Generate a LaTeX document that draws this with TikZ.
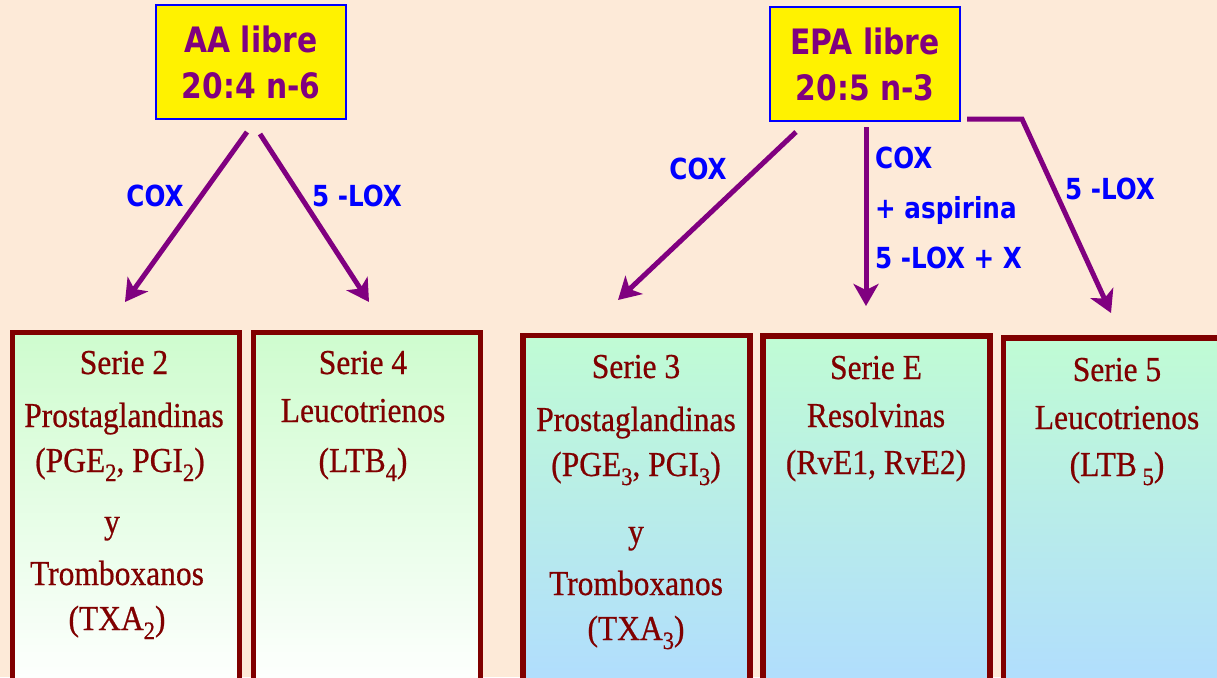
\documentclass[tikz,border=0pt]{standalone}
\usepackage{fontspec}
\setmainfont{Liberation Serif}
\newfontfamily\serieFont[FakeStretch=0.9,FakeBold=0.6]{Liberation Serif}
\newfontfamily\labFont[FakeStretch=0.85]{DejaVu Sans}
\usetikzlibrary{arrows.meta}
\definecolor{bg}{RGB}{253,234,216}
\definecolor{purp}{RGB}{128,0,128}
\definecolor{lblue}{RGB}{0,0,255}
\definecolor{dred}{RGB}{128,0,0}
\definecolor{gtop}{RGB}{206,252,206}
\definecolor{ctop}{RGB}{192,252,212}
\definecolor{cmid}{RGB}{176,255,255}
\definecolor{cbot}{RGB}{176,220,255}
\newcommand\lowsub[1]{\raisebox{-9pt}{\fontsize{25}{25}\selectfont #1}}
\newcommand\shl[1]{\hspace*{#1}\null}
\tikzset{
  srcbox/.style={draw=lblue, line width=1.5pt, fill=yellow, minimum width=190pt, minimum height=114pt,
    align=center, text=purp, inner sep=0pt, font=\labFont\bfseries\fontsize{35}{46}\selectfont},
  serbox/.style={draw=dred, line width=5.5pt, minimum width=227pt, minimum height=360pt, anchor=north, inner sep=0pt},
  greenbox/.style={serbox, top color=gtop, bottom color=white},
  bluebox/.style={serbox, top color=ctop, middle color=cmid, bottom color=cbot},
  sertext/.style={text=dred, align=center, anchor=base, inner sep=0pt,
    font=\serieFont\fontsize{35}{45}\selectfont},
  lab/.style={text=lblue, inner sep=0pt, font=\labFont\bfseries\fontsize{29}{50}\selectfont},
  arr/.style={draw=purp, line width=5pt, -{Stealth[length=22pt,width=25pt,inset=6pt]}}
}
\begin{document}
\begin{tikzpicture}[x=1pt,y=-1pt]
\fill[bg] (0,0) rectangle (1217,677);
\useasboundingbox (0,0) rectangle (1217,677);
\clip (0,0) rectangle (1217,677);

% source boxes
\node[srcbox] (aa) at (251,62) {AA libre\\20:4 n-6};
\node[srcbox] (epa) at (865,64) {EPA libre\\20:5 n-3};

% series boxes
\node[greenbox] (s2) at (126,329.5) {};
\node[greenbox] (s4) at (367,329.5) {};
\node[bluebox] (s3) at (636.5,332.5) {};
\node[bluebox] (se) at (876.5,333) {};
\node[bluebox] (s5) at (1117,335) {};

% texts in boxes (anchor base = baseline of last line)
\node[sertext] (t2) at (124,630) {Serie 2\\[8pt]Prostaglandinas\\(PGE\lowsub{2}, PGI\lowsub{2})\shl{8pt}\\[16pt]y\shl{24pt}\\[7pt]Tromboxanos\shl{14pt}\\(TXA\lowsub{2})\shl{14pt}};
\node[sertext] (t4) at (363,472) {Serie 4\\[3pt]Leucotrienos\\[5pt](LTB\lowsub{4})};
\node[sertext] (t3) at (636,640) {Serie 3\\[8pt]Prostaglandinas\\(PGE\lowsub{3}, PGI\lowsub{3})\\[22pt]y\\[7pt]Tromboxanos\\(TXA\lowsub{3})};
\node[sertext] (te) at (876,474) {Serie E\\[3pt]Resolvinas\\[2pt](RvE1, RvE2)};
\node[sertext] (t5) at (1117,476) {Serie 5\\[3pt]Leucotrienos\\[2pt](LTB\,\lowsub{5})};

% connector end points
\coordinate (a1s) at (247,132);
\coordinate (a1e) at (125,302);
\coordinate (a2s) at (260,134);
\coordinate (a2e) at (369,302);
\coordinate (e1s) at (796,132);
\coordinate (e1e) at (618,300);
\coordinate (e2s) at (866,127);
\coordinate (e2e) at (866,306);
\coordinate (e3s) at (967,119);
\coordinate (e3k) at (1022,119);
\coordinate (e3e) at (1111,313);

\draw[arr] (a1s) -- (a1e);
\draw[arr] (a2s) -- (a2e);
\draw[arr] (e1s) -- (e1e);
\draw[arr] (e2s) -- (e2e);
\draw[arr] (e3s) -- (e3k) -- (e3e);

% labels
\node[lab] (l1) at (155,196) {COX};
\node[lab] (l2) at (357,196) {5 -LOX};
\node[lab] (l3) at (698,169) {COX};
\node[lab, anchor=base west, align=left] (l4) at (875,268) {COX\\+ aspirina\\5 -LOX + X};
\node[lab] (l5) at (1110,189) {5 -LOX};
\end{tikzpicture}
\end{document}
